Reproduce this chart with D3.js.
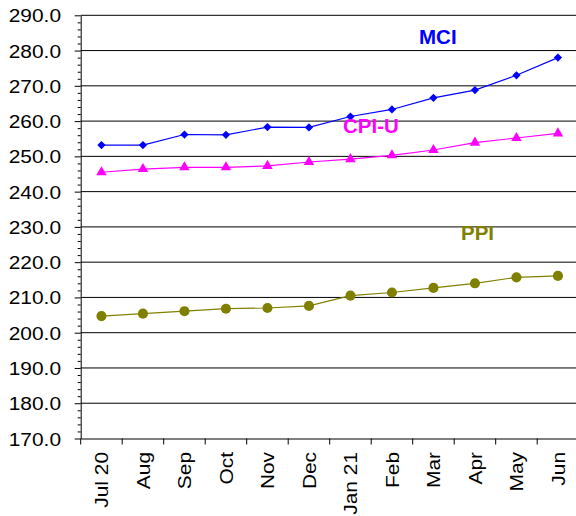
<!DOCTYPE html>
<html>
<head>
<meta charset="utf-8">
<script src="https://cdn.jsdelivr.net/npm/d3@7"></script>
<style>
  body { margin: 0; background: #fff; }
  svg { display: block; }
  text { font-family: "Liberation Sans", Arial, sans-serif; }
</style>
</head>
<body>
<div id="chart"></div>
<script>
// values
var months = ["Jul 20", "Aug", "Sep", "Oct", "Nov", "Dec", "Jan 21", "Feb", "Mar", "Apr", "May", "Jun"]
var mci = [253.2, 253.2, 256.2, 256.1, 258.3, 258.2, 261.3, 263.3, 266.6, 268.8, 273.0, 278.0]
var cpiu = [245.5, 246.4, 246.9, 246.9, 247.3, 248.4, 249.2, 250.3, 251.8, 253.9, 255.2, 256.5]
var ppi = [204.7, 205.4, 206.1, 206.8, 207.0, 207.6, 210.5, 211.4, 212.7, 214.0, 215.7, 216.1]
var yTicks = [170, 180, 190, 200, 210, 220, 230, 240, 250, 260, 270, 280, 290]

var width = 576, height = 516
// plot edges (window.top is reserved, so no "top" here)
var plotLeft = 80.7, plotRight = 578.7, plotTop = 15.3, plotBottom = 438.5

var svg = d3.select("#chart").append("svg")
        .attr("width", width)
        .attr("height", height)

var x = d3.scaleBand().domain(months).range([plotLeft, plotRight]).padding(0)
var y = d3.scaleLinear().domain([170, 290]).range([plotBottom, plotTop])

// gridlines
svg.append("g").selectAll("line")
   .data(yTicks.slice(1))
   .join("line")
   .attr("x1", plotLeft).attr("x2", width)
   .attr("y1", d => y(d)).attr("y2", d => y(d))
   .attr("stroke", "#000")
   .attr("stroke-width", 1)

// minor y ticks, every 2
var minor = d3.range(172, 290, 2).filter(d => d % 10 != 0)
svg.append("g")
   .attr("transform", "translate(" + plotLeft + ",0)")
   .call(d3.axisLeft(y).tickValues(minor).tickSize(3).tickFormat(""))
   .call(g => g.select(".domain").remove())

// major y axis
var yAxis = svg.append("g")
   .attr("transform", "translate(" + plotLeft + ",0)")
   .call(d3.axisLeft(y).tickValues(yTicks).tickSize(6).tickSizeOuter(0).tickFormat(""))
yAxis.selectAll("line, path").attr("stroke", "#000")

// y labels (the original font is a bit wide, so stretch it)
svg.append("g").selectAll("text")
   .data(yTicks)
   .join("text")
   .attr("transform", d => "translate(61," + (y(d) + 7) + ") scale(1.16,1)")
   .attr("text-anchor", "end")
   .attr("font-size", 18)
   .attr("fill", "#000")
   .text(d => d.toFixed(1))

// x axis with ticks between categories
var xAxis = svg.append("g")
   .attr("transform", "translate(0," + plotBottom + ")")
   .call(d3.axisBottom(x).tickSize(0).tickFormat(""))
xAxis.select(".domain").attr("stroke", "#000")
xAxis.selectAll(".tick").remove()
svg.append("g").selectAll("line")
   .data(months)
   .join("line")
   .attr("x1", d => x(d)).attr("x2", d => x(d))
   .attr("y1", plotBottom).attr("y2", plotBottom + 6)
   .attr("stroke", "#000")

svg.append("g").selectAll("text")
   .data(months)
   .join("text")
   .attr("transform", d => "translate(" + (x(d) + x.bandwidth() / 2 + 7) + ",452) rotate(-90) scale(1.16,1)")
   .attr("text-anchor", "end")
   .attr("font-size", 18)
   .attr("fill", "#000")
   .text(d => d)

function cx(d, i){ return x(months[i]) + x.bandwidth() / 2 }

function drawSeries(values, color, symbol, size, rot){
    let line = d3.line()
                 .x((d, i) => cx(d, i))
                 .y(d => y(d))
    svg.append("path")
       .attr("d", line(values))
       .attr("fill", "none")
       .attr("stroke", color)
       .attr("stroke-width", 1.2)
    svg.append("g").selectAll("path")
       .data(values)
       .join("path")
       .attr("d", d3.symbol().type(symbol).size(size))
       .attr("transform", (d, i) => "translate(" + cx(d, i) + "," + y(d) + ") rotate(" + rot + ")")
       .attr("fill", color)
}

drawSeries(mci, "#0000ff", d3.symbolSquare, 34, 45)
drawSeries(cpiu, "#ff00ff", d3.symbolTriangle, 48, 0)
drawSeries(ppi, "#808000", d3.symbolCircle, 80, 0)

// series labels
svg.append("text").attr("x", 419).attr("y", 44)
   .attr("font-size", 20.5).attr("font-weight", "bold").attr("fill", "#0000ff").text("MCI")
svg.append("text").attr("x", 343).attr("y", 133)
   .attr("font-size", 20.5).attr("font-weight", "bold").attr("fill", "#ff00ff").text("CPI-U")
svg.append("text").attr("x", 461).attr("y", 239.5)
   .attr("font-size", 20.5).attr("font-weight", "bold").attr("fill", "#808000").text("PPI")
</script>
</body>
</html>
